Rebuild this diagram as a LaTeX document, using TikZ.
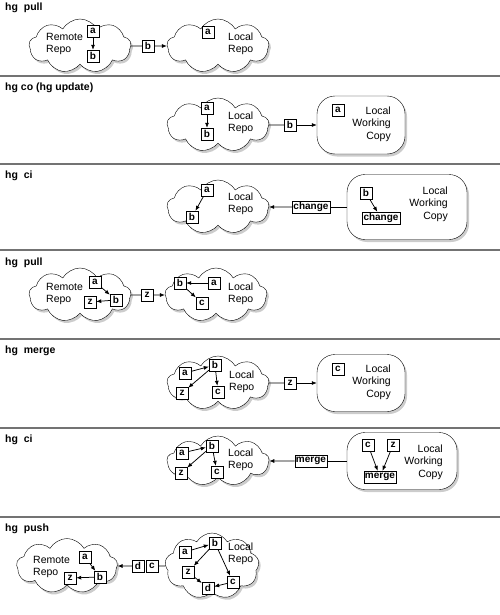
\documentclass[tikz,border=0pt]{standalone}
\usepackage{fontspec}
\setmainfont{Liberation Sans}
\usetikzlibrary{arrows.meta,positioning,shapes.symbols,shadows}

\begin{document}
\begin{tikzpicture}[x=1pt,y=-1pt,font=\fontsize{10.5}{12}\selectfont,>={Latex[length=5pt,width=4pt]},
 shade/.style={drop shadow={shadow xshift=2pt,shadow yshift=-2.5pt,opacity=.4}},
 repo/.style={draw,cloud,cloud puffs=9,cloud puff arc=120,cloud ignores aspect,fill=white,minimum width=102pt,minimum height=54pt,inner sep=0pt,shade},
 wcopy/.style={draw,rounded corners=18pt,fill=white,inner sep=0pt,shade},
 cset/.style={draw,fill=white,font=\fontsize{10}{10}\selectfont\bfseries,minimum size=12pt,inner sep=1.2pt},
 arr/.style={->,line width=.75pt},
 lnk/.style={line width=.75pt},
 lbl/.style={align=left,inner sep=0pt,anchor=west},
 wlbl/.style={align=right,inner sep=0pt,anchor=east,font=\fontsize{10.5}{12.5}\selectfont},
 ttl/.style={font=\fontsize{10.5}{12}\selectfont\bfseries,anchor=west,inner sep=0pt},
 sep/.style={draw=black!55,line width=1.2pt}]
\useasboundingbox (0,0) rectangle (500,615);
\foreach \y in {76,164,250,339,428,517} \draw[sep] (0,\y) -- (500,\y);
\node[ttl] (t1) at (5,8) {hg~~pull};
\node[ttl] (t2) at (5,88) {hg co (hg update)};
\node[ttl] (t3) at (5,176) {hg~~ci};
\node[ttl] (t4) at (5,263) {hg~~pull};
\node[ttl] (t5) at (5,351) {hg~~merge};
\node[ttl] (t6) at (5,440) {hg~~ci};
\node[ttl] (t7) at (5,529) {hg~~push};
% hg pull
\node[repo] (rem1) at (80,46) {};
\node[lbl] (rem1l) at (46,44) {Remote\\Repo};
\node[cset] (a1) at (93,31) {a};
\node[cset] (b1) at (93,56) {b};
\node[cset] (x1) at (148,46) {b};
\node[repo] (loc1) at (218,46) {};
\node[cset] (la1) at (208,32) {a};
\node[lbl] (loc1l) at (228,44) {Local\\Repo};
\draw[arr] (a1) -- (b1);
\draw[lnk] (rem1) -- (x1); \draw[arr] (x1) -- (loc1);
% hg co
\node[repo] (loc2) at (218,125) {};
\node[cset] (a2) at (207,108) {a};
\node[cset] (b2) at (207,134) {b};
\node[lbl] (loc2l) at (228,123) {Local\\Repo};
\node[cset] (x2) at (290,125) {b};
\node[wcopy,minimum width=88pt,minimum height=58pt] (wc2) at (361,125) {};
\node[cset] (wa2) at (338,110) {a};
\node[wlbl] (wc2l) at (391,124) {Local\\Working\\Copy};
\draw[arr] (a2) -- (b2);
\draw[lnk] (loc2) -- (x2); \draw[arr] (x2) -- (wc2);
% hg ci
\node[repo] (loc3) at (218,207) {};
\node[cset] (a3) at (207,190) {a};
\node[cset] (b3) at (192,217) {b};
\node[lbl] (loc3l) at (228,204) {Local\\Repo};
\node[cset] (x3) at (311,207) {change};
\node[wcopy,minimum width=120pt,minimum height=65pt] (wc3) at (407,207) {};
\node[cset] (wb3) at (366,193) {b};
\node[cset] (wch3) at (381,218) {change};
\node[wlbl] (wc3l) at (448,204) {Local\\Working\\Copy};
\draw[arr] (a3) -- (b3);
\draw[arr] (wb3) -- (wch3);
\draw[lnk] (wc3) -- (x3); \draw[arr] (x3) -- (loc3);
% hg pull
\node[repo] (rem4) at (80,295) {};
\node[lbl] (rem4l) at (46,294) {Remote\\Repo};
\node[cset] (a4) at (95,282) {a};
\node[cset] (b4) at (116,300) {b};
\node[cset] (z4) at (90,302) {z};
\node[cset] (x4) at (147,295) {z};
\node[repo] (loc4) at (216,295) {};
\node[cset] (lb4) at (180,283) {b};
\node[cset] (la4) at (214,283) {a};
\node[cset] (lc4) at (202,303) {c};
\node[lbl] (loc4l) at (228,294) {Local\\Repo};
\draw[arr] (a4) -- (b4); \draw[arr] (b4) -- (z4);
\draw[arr] (la4) -- (lb4); \draw[arr] (lb4) -- (lc4);
\draw[lnk] (rem4) -- (x4); \draw[arr] (x4) -- (loc4);
% hg merge
\node[repo] (loc5) at (218,383) {};
\node[cset] (a5) at (185,373) {a};
\node[cset] (b5) at (215,365) {b};
\node[cset] (z5) at (182,393) {z};
\node[cset] (c5) at (218,392) {c};
\node[lbl] (loc5l) at (229,382) {Local\\Repo};
\node[cset] (x5) at (290,383) {z};
\node[wcopy,minimum width=88pt,minimum height=57pt] (wc5) at (361,383) {};
\node[cset] (wcc5) at (338,369) {c};
\node[wlbl] (wc5l) at (391,382) {Local\\Working\\Copy};
\draw[arr] (a5) -- (b5); \draw[arr] (b5) -- (z5); \draw[arr] (b5) -- (c5);
\draw[lnk] (loc5) -- (x5); \draw[arr] (x5) -- (wc5);
% hg ci
\node[repo,minimum height=50pt] (loc6) at (218,461) {};
\node[cset] (a6) at (182,453) {a};
\node[cset] (b6) at (212,446) {b};
\node[cset] (z6) at (181,473) {z};
\node[cset] (c6) at (217,472) {c};
\node[lbl] (loc6l) at (228,460) {Local\\Repo};
\node[cset] (x6) at (311,461) {merge};
\node[wcopy,minimum width=110pt,minimum height=57pt] (wc6) at (402,461) {};
\node[cset] (wcc6) at (368,445) {c};
\node[cset] (wcz6) at (393,445) {z};
\node[cset] (wm6) at (380,477) {merge};
\node[wlbl] (wc6l) at (443,462) {Local\\Working\\Copy};
\draw[arr] (a6) -- (b6); \draw[arr] (b6) -- (z6); \draw[arr] (b6) -- (c6);
\draw[arr] (wcc6) -- (wm6); \draw[arr] (wcz6) -- (wm6);
\draw[lnk] (wc6) -- (x6); \draw[arr] (x6) -- (loc6);
% hg push
\node[repo,minimum width=101pt,minimum height=55pt] (rem7) at (67,566) {};
\node[lbl] (rem7l) at (33,567) {Remote\\Repo};
\node[cset] (a7) at (85,557) {a};
\node[cset] (b7) at (100,577) {b};
\node[cset] (z7) at (70,578) {z};
\node[repo,minimum width=94pt,minimum height=66pt] (loc7) at (212,566) {};
\node[cset] (la7) at (185,552) {a};
\node[cset] (lb7) at (215,543) {b};
\node[cset] (lz7) at (188,572) {z};
\node[cset] (lc7) at (233,582) {c};
\node[cset] (ld7) at (208,588) {d};
\node[lbl] (loc7l) at (228,554) {Local\\Repo};
\node[cset] (xd7) at (138,566) {d};
\node[cset] (xc7) at (152,566) {c};
\draw[arr] (a7) -- (b7); \draw[arr] (b7) -- (z7);
\draw[arr] (la7) -- (lb7); \draw[arr] (lb7) -- (lz7); \draw[arr] (lb7) -- (lc7);
\draw[arr] (lz7) -- (ld7); \draw[arr] (lc7) -- (ld7);
\draw[lnk] (loc7) -- (xc7); \draw[arr] (xd7) -- (rem7);
\end{tikzpicture}
\end{document}
